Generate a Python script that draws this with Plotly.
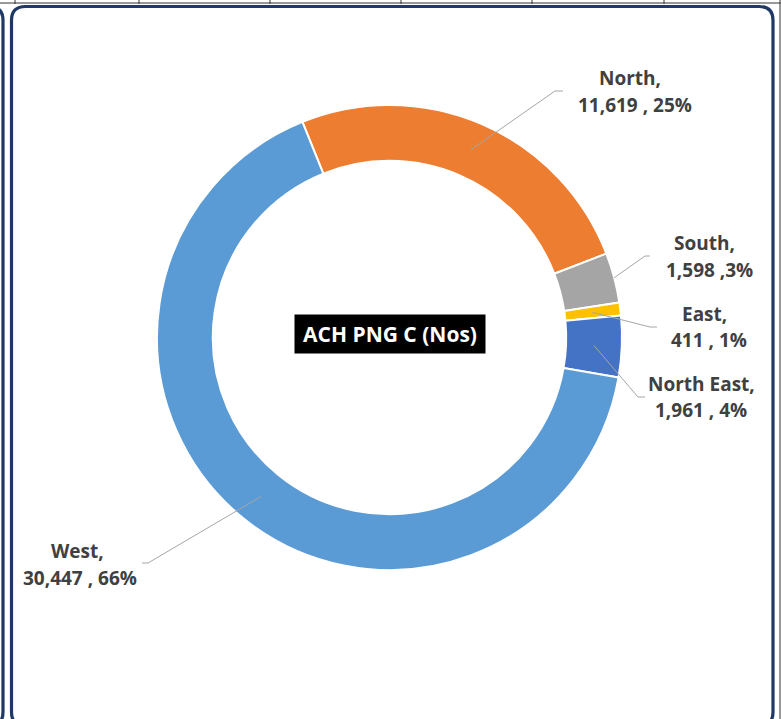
import math
import plotly.graph_objects as go

W, H = 781, 719

# data
regions = ["North", "South", "East", "North East", "West"]
counts = [11619, 1598, 411, 1961, 30447]
pcts = [25, 3, 1, 4, 66]
seps = [" , ", " ,", " , ", " , ", " , "]
colors = ["#ED7D31", "#A5A5A5", "#FFC000", "#4472C4", "#5B9BD5"]
chart_title = "ACH PNG C (Nos)"

# pie geometry (pixels)
CX, CY, R_OUT = 389.5, 337.5, 232.5
HOLE = 0.76
ROTATION = -22

# label layout (pixels): line1 centre, line2 centre, elbow, end of leader
label_pos = [
    ((630, 78), (635, 105), (555, 91), (563, 91)),
    ((704, 243), (709, 270), (645, 256), (650, 256)),
    ((704, 314), (709, 340), (650, 327), (657, 327)),
    ((701, 384), (701, 410), (638, 397), (645, 397)),
    ((77, 551), (80, 578), (148, 563), (142, 563)),
]
anchor_r = ["mid", "outer", "mid", "mid", "mid"]


def px(x):
    return x / W


def py(y):
    return 1 - y / H


fig = go.Figure(go.Pie(
    labels=regions,
    values=counts,
    sort=False,
    direction="clockwise",
    rotation=ROTATION,
    hole=HOLE,
    textinfo="none",
    marker=dict(colors=colors, line=dict(color="white", width=2)),
    showlegend=False,
    domain=dict(x=[px(CX - R_OUT), px(CX + R_OUT)],
                y=[py(CY + R_OUT), py(CY - R_OUT)]),
))

shapes = []
annotations = []
total = sum(counts)
start = ROTATION
font = dict(family="Open Sans", size=19, color="#404040")
for i, name in enumerate(regions):
    span = counts[i] / total * 360
    mid = math.radians(start + span / 2)
    start += span
    r = R_OUT if anchor_r[i] == "outer" else R_OUT * (1 + HOLE) / 2
    ax, ay = CX + r * math.sin(mid), CY - r * math.cos(mid)
    l1, l2, elbow, end = label_pos[i]
    shapes.append(dict(
        type="path", xref="paper", yref="paper",
        path=f"M {px(ax)},{py(ay)} L {px(elbow[0])},{py(elbow[1])} L {px(end[0])},{py(end[1])}",
        line=dict(color="#A6A6A6", width=1),
    ))
    line2 = f"{counts[i]:,}{seps[i]}{pcts[i]}%"
    for (tx, ty), txt in ((l1, f"{name},"), (l2, line2)):
        annotations.append(dict(
            x=px(tx), y=py(ty), xref="paper", yref="paper",
            text=f"<b>{txt}</b>", showarrow=False,
            xanchor="center", yanchor="middle", font=font,
        ))

annotations.append(dict(
    x=px(390), y=py(334), xref="paper", yref="paper",
    text=f"<b>{chart_title}</b>", showarrow=False,
    font=dict(family="Open Sans", size=21, color="white"),
    bgcolor="black", width=188, height=36, xanchor="center", yanchor="middle",
))

navy = "#1F3864"
# main rounded frame
x0, x1, y0, y1, rc = 11.5, 773, 6.5, 726, 14
frame = (f"M {px(x0)},{py(y1 - rc)} L {px(x0)},{py(y0 + rc)} "
         f"Q {px(x0)},{py(y0)} {px(x0 + rc)},{py(y0)} "
         f"L {px(x1 - rc)},{py(y0)} Q {px(x1)},{py(y0)} {px(x1)},{py(y0 + rc)} "
         f"L {px(x1)},{py(y1 - rc)} Q {px(x1)},{py(y1)} {px(x1 - rc)},{py(y1)} "
         f"L {px(x0 + rc)},{py(y1)} Q {px(x0)},{py(y1)} {px(x0)},{py(y1 - rc)} Z")
shapes.append(dict(type="path", xref="paper", yref="paper", path=frame,
                   line=dict(color=navy, width=3.2)))
# neighbouring frame edge on the left
xl = 3
left = (f"M {px(xl - rc)},{py(y0)} Q {px(xl)},{py(y0)} {px(xl)},{py(y0 + rc)} "
        f"L {px(xl)},{py(y1 - rc)} Q {px(xl)},{py(y1)} {px(xl - rc)},{py(y1)}")
shapes.append(dict(type="path", xref="paper", yref="paper", path=left,
                   line=dict(color=navy, width=3.2)))

# spreadsheet grid remnants
shapes.append(dict(type="line", xref="paper", yref="paper",
                   x0=0, x1=1, y0=py(3), y1=py(3), line=dict(color="#333333", width=1)))
for gx in [15, 139, 270, 401, 532, 664]:
    shapes.append(dict(type="line", xref="paper", yref="paper",
                       x0=px(gx), x1=px(gx), y0=py(0), y1=py(4),
                       line=dict(color="#333333", width=1)))
shapes.append(dict(type="line", xref="paper", yref="paper",
                   x0=px(780), x1=px(780), y0=0, y1=1, line=dict(color="#333333", width=1)))

fig.update_layout(
    width=W, height=H,
    margin=dict(l=0, r=0, t=0, b=0),
    paper_bgcolor="white",
    shapes=shapes,
    annotations=annotations,
)

fig.write_html("out.html", config={"displayModeBar": False},
               post_script="document.body.style.margin='0';")
